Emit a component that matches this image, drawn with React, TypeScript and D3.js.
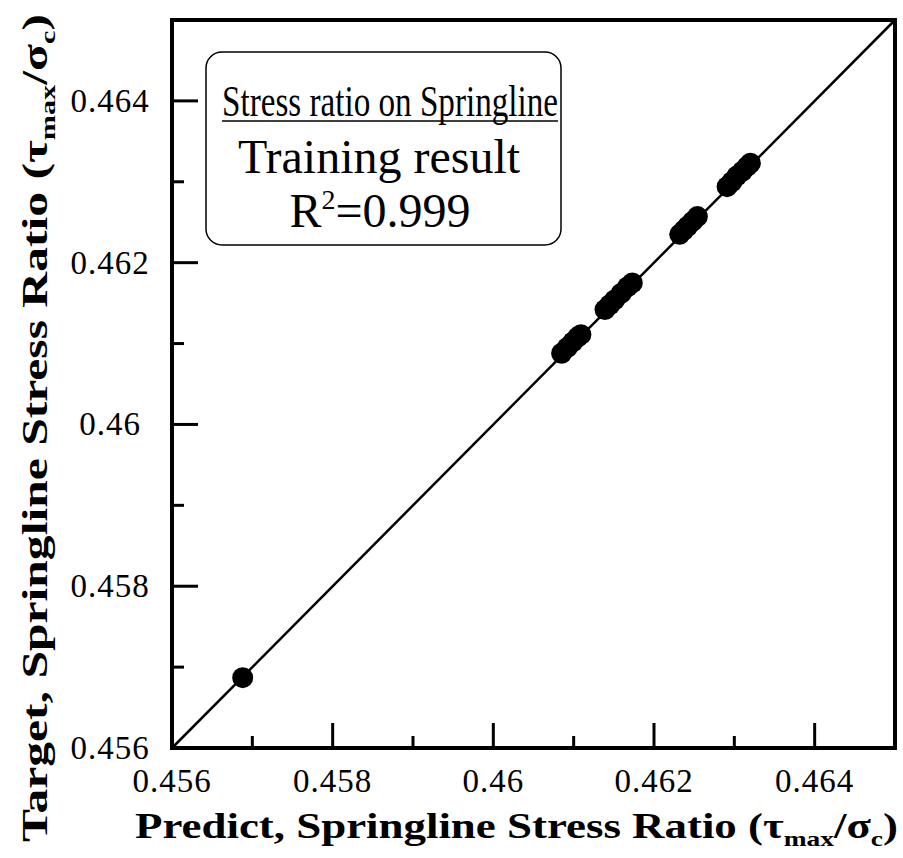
import React from "react";
import * as d3 from "d3";

const predicted = [0.45688, 0.46085, 0.46092, 0.46099, 0.46105, 0.46109, 0.46139, 0.46145, 0.46151, 0.46159, 0.46167, 0.46173, 0.46232, 0.46237, 0.46242, 0.46248, 0.46254, 0.46291, 0.46297, 0.46303, 0.4631, 0.46316, 0.4632];
const target = [0.45687, 0.46088, 0.46095, 0.46102, 0.46108, 0.46111, 0.46142, 0.46148, 0.46154, 0.46162, 0.4617, 0.46175, 0.46235, 0.4624, 0.46245, 0.46251, 0.46257, 0.46294, 0.463, 0.46307, 0.46313, 0.46319, 0.46323];
const majorTicks = [0.456, 0.458, 0.46, 0.462, 0.464];
const tickLabels = ["0.456", "0.458", "0.46", "0.462", "0.464"];
const minorTicks = [0.457, 0.459, 0.461, 0.463];
const domain = [0.456, 0.465];

const FONT = "Liberation Serif, Times New Roman, DejaVu Serif, serif";

export default function App() {
  const x = d3.scaleLinear().domain(domain).range([172, 895]);
  const y = d3.scaleLinear().domain(domain).range([748, 20]);
  const line = d3.line<number>().x((d) => x(d)).y((d) => y(d));

  return (
    <svg width={903} height={858} style={{ position: "absolute", left: 0, top: 0, background: "#fff", fontFamily: FONT }}>
      <rect x={0} y={0} width={903} height={858} fill="#fff" />
      <path d={line(domain) || ""} stroke="#000" strokeWidth={2.5} fill="none" />
      {predicted.map((p, i) => (
        <circle key={i} cx={x(p)} cy={y(target[i])} r={10.5} fill="#000" />
      ))}
      <rect x={x(domain[0])} y={y(domain[1])} width={x(domain[1]) - x(domain[0])} height={y(domain[0]) - y(domain[1])} fill="none" stroke="#000" strokeWidth={4} />
      {majorTicks.map((t, i) => (
        <g key={"xm" + i}>
          <line x1={x(t)} x2={x(t)} y1={y(domain[0])} y2={y(domain[0]) - 25} stroke="#000" strokeWidth={3} />
          <text x={x(t)} y={792} fontSize={33} textAnchor="middle" letterSpacing={1} style={{ fontFamily: FONT }}>{tickLabels[i]}</text>
        </g>
      ))}
      {minorTicks.map((t, i) => (
        <line key={"xn" + i} x1={x(t)} x2={x(t)} y1={y(domain[0])} y2={y(domain[0]) - 12} stroke="#000" strokeWidth={3} />
      ))}
      {majorTicks.map((t, i) => (
        <g key={"ym" + i}>
          <line x1={x(domain[0])} x2={x(domain[0]) + 26} y1={y(t)} y2={y(t)} stroke="#000" strokeWidth={3} />
          <text x={110} y={y(t) + 11} fontSize={33} textAnchor="middle" letterSpacing={1} style={{ fontFamily: FONT }}>{tickLabels[i]}</text>
        </g>
      ))}
      {minorTicks.map((t, i) => (
        <line key={"yn" + i} x1={x(domain[0])} x2={x(domain[0]) + 12} y1={y(t)} y2={y(t)} stroke="#000" strokeWidth={3} />
      ))}
      <text x={135} y={838} fontSize={36} fontWeight="bold" textLength={763} lengthAdjust="spacingAndGlyphs" style={{ fontFamily: FONT }}>
        Predict, Springline Stress Ratio (τ
        <tspan fontSize={22} dy={8}>max</tspan>
        <tspan dy={-8}>/σ</tspan>
        <tspan fontSize={22} dy={8}>c</tspan>
        <tspan dy={-8}>)</tspan>
      </text>
      <text transform="translate(47,842) rotate(-90)" fontSize={36} fontWeight="bold" textLength={828} lengthAdjust="spacingAndGlyphs" style={{ fontFamily: FONT }}>
        Target, Springline Stress Ratio (τ
        <tspan fontSize={22} dy={8}>max</tspan>
        <tspan dy={-8}>/σ</tspan>
        <tspan fontSize={22} dy={8}>c</tspan>
        <tspan dy={-8}>)</tspan>
      </text>
      <rect x={206} y={52} width={355} height={193} rx={16} ry={16} fill="#fff" stroke="#000" strokeWidth={1.5} />
      <text x={390} y={116} fontSize={44} textAnchor="middle" textLength={336} lengthAdjust="spacingAndGlyphs" style={{ fontFamily: FONT }}>Stress ratio on Springline</text>
      <line x1={222} x2={558} y1={121} y2={121} stroke="#000" strokeWidth={1.5} />
      <text x={379} y={173} fontSize={48} textAnchor="middle" style={{ fontFamily: FONT }}>Training result</text>
      <text x={380} y={227} fontSize={48} textAnchor="middle" style={{ fontFamily: FONT }}>
        R<tspan fontSize={28} dy={-18}>2</tspan><tspan dy={18}>=0.999</tspan>
      </text>
    </svg>
  );
}
